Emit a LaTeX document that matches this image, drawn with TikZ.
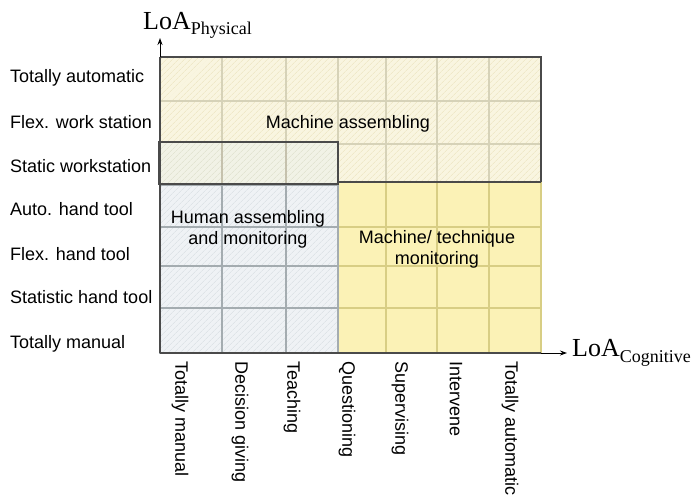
\documentclass[tikz,border=0pt]{standalone}
\usepackage{fontspec}
\setmainfont{Liberation Sans}
\newfontfamily\loafont{Liberation Serif}
\usetikzlibrary{patterns.meta,arrows.meta}
\definecolor{cream}{HTML}{F9F5E0}
\definecolor{creamhatch}{HTML}{EFE8C8}
\definecolor{creamgrid}{HTML}{D6D2B8}
\definecolor{staticfill}{HTML}{F1F2E6}
\definecolor{statichatch}{HTML}{E2E4D2}
\definecolor{humanfill}{HTML}{EFF2F5}
\definecolor{humanhatch}{HTML}{DEE3E7}
\definecolor{humangrid}{HTML}{A4ACB0}
\definecolor{yel}{HTML}{FBF2B6}
\definecolor{yelgrid}{HTML}{D8CE84}
\definecolor{frame}{HTML}{4A4A4A}
\begin{document}
\begin{tikzpicture}[x=1pt,y=-1pt,
  lbl/.style={font=\fontsize{18}{21}\selectfont, inner sep=0pt, text=black},
  region/.style={font=\fontsize{18}{21}\selectfont, inner sep=0pt, align=center, text=black},
  axislbl/.style={font=\loafont\fontsize{26}{26}\selectfont, inner sep=0pt, anchor=base west},
  hatch/.style={pattern={Lines[angle=45,distance=4pt,line width=0.7pt]}, pattern color=#1},
  gridline/.style={draw=#1, line width=1.1pt},
  axisline/.style={draw=frame, line width=1.6pt},
  arr/.style={-{Stealth[length=7pt,width=5pt]}, draw=black, line width=1pt}
]
\useasboundingbox (0,0) rectangle (697,496);
% --- Machine assembling region (top three rows)
\fill[cream] (160,57) rectangle (541,182);
\fill[hatch=creamhatch] (160,57) rectangle (541,182);
\foreach \x in {222,286,338,386,437,489} \draw[gridline=creamgrid] (\x,57) -- (\x,182);
\foreach \y in {101,144} \draw[gridline=creamgrid] (160,\y) -- (541,\y);
% --- Machine / technique monitoring region
\fill[yel] (338,182) rectangle (541,353);
\foreach \x in {386,437,489} \draw[gridline=yelgrid] (\x,182) -- (\x,353);
\foreach \y in {227,266,308} \draw[gridline=yelgrid] (338,\y) -- (541,\y);
\draw[draw=yelgrid, line width=1.4pt] (541,182) -- (541,353);
% --- Human region
\fill[humanfill] (160,184) rectangle (338,353);
\fill[hatch=humanhatch] (160,184) rectangle (338,353);
\foreach \x in {222,286} \draw[gridline=humangrid] (\x,184) -- (\x,353);
\foreach \y in {227,266,308} \draw[gridline=humangrid] (160,\y) -- (338,\y);
\draw[draw=humangrid, line width=1.2pt] (160,185) rectangle (338,353);
% --- Static workstation box
\fill[staticfill] (159,142) rectangle (338,184);
\fill[hatch=statichatch] (159,142) rectangle (338,184);
\foreach \x in {222,286} \draw[gridline=creamgrid!80!gray] (\x,142) -- (\x,184);
\draw[draw=frame, line width=1.3pt] (159,142) rectangle (338,184);
% --- frame lines
\draw[axisline] (160,57) -- (541,57) -- (541,182);
\draw[draw=frame, line width=1.4pt] (338,182) -- (541,182);
% --- axes
\coordinate (O) at (160,353);
\coordinate (TL) at (160,57);
\coordinate (R) at (541,353);
\coordinate (ytip) at (160,38);
\coordinate (xtip) at (567,353);
\draw[axisline] (O) -- (TL);
\draw[axisline] (O) -- (R);
\draw[arr] (TL) -- (ytip);
\draw[arr] (R) -- (xtip);
\node[axislbl] (ylab) at (143,29) {LoA\raisebox{-5pt}{\fontsize{18}{18}\selectfont Physical}};
\node[axislbl] (xlab) at (572,356) {LoA\raisebox{-6pt}{\fontsize{18}{18}\selectfont Cognitive}};
% --- row labels
\node[lbl, anchor=base west] (r7) at (10,82) {Totally automatic};
\node[lbl, anchor=base west] (r6) at (10,128) {Flex. work station};
\node[lbl, anchor=base west] (r5) at (10,172) {Static workstation};
\node[lbl, anchor=base west] (r4) at (10,215) {Auto. hand tool};
\node[lbl, anchor=base west] (r3) at (10,260) {Flex. hand tool};
\node[lbl, anchor=base west] (r2) at (10,303) {Statistic hand tool};
\node[lbl, anchor=base west] (r1) at (10,348) {Totally manual};
% --- column labels
\node[lbl, rotate=-90, anchor=west] (c1) at (180,361) {Totally manual};
\node[lbl, rotate=-90, anchor=west] (c2) at (240,361) {Decision giving};
\node[lbl, rotate=-90, anchor=west] (c3) at (292,361) {Teaching};
\node[lbl, rotate=-90, anchor=west] (c4) at (347,361) {Questioning};
\node[lbl, rotate=-90, anchor=west] (c5) at (400,361) {Supervising};
\node[lbl, rotate=-90, anchor=west] (c6) at (456,361) {Intervene};
\node[lbl, rotate=-90, anchor=west] (c7) at (510,361) {Totally automatic};
% --- region labels
\node[region, anchor=base] (ma) at (348,128) {Machine assembling};
\node[region, anchor=base] (ha) at (248,244) {Human assembling\\and monitoring};
\node[region, anchor=base] (mt) at (437,264) {Machine/ technique\\monitoring};
\end{tikzpicture}
\end{document}
